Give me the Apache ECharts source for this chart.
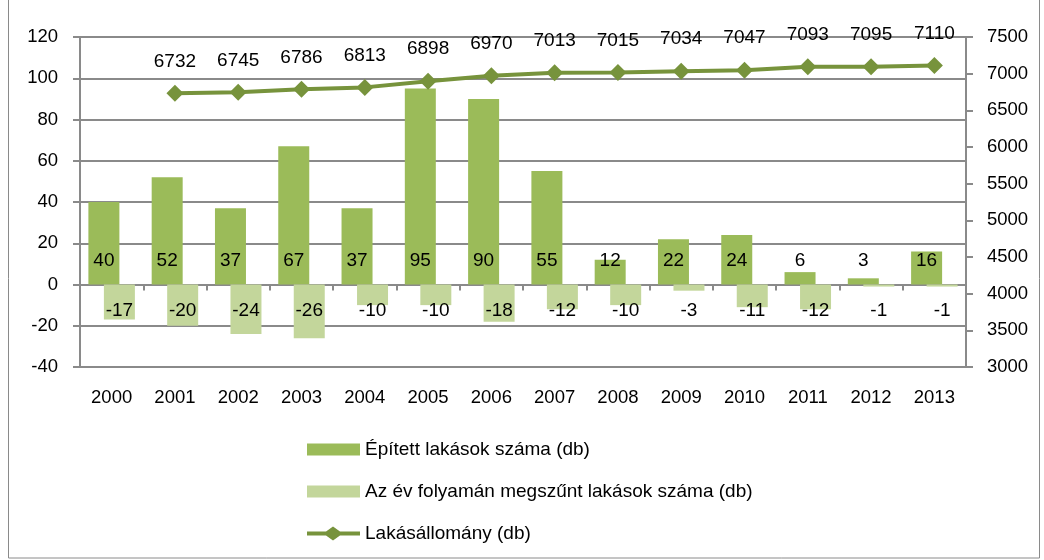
<!DOCTYPE html>
<html>
<head>
<meta charset="utf-8">
<script src="https://cdn.jsdelivr.net/npm/echarts@6/dist/echarts.min.js"></script>
<style>
  html, body { margin: 0; padding: 0; background: #fff; }
  #chart { width: 1044px; height: 560px; }
</style>
</head>
<body>
<div id="chart"></div>
<script>
// évek
var years = ["2000", "2001", "2002", "2003", "2004", "2005", "2006", "2007", "2008", "2009", "2010", "2011", "2012", "2013"];
// épített lakások
var built = [40, 52, 37, 67, 37, 95, 90, 55, 12, 22, 24, 6, 3, 16];
// megszűnt lakások
var demolished = [-17, -20, -24, -26, -10, -10, -18, -12, -10, -3, -11, -12, -1, -1];
// lakásállomány
var stock = [null, 6732, 6745, 6786, 6813, 6898, 6970, 7013, 7015, 7034, 7047, 7093, 7095, 7110];

var FONT = "'Liberation Sans', Arial, sans-serif";
var GRAY = "#8a8a8a";

var chart = echarts.init(document.getElementById("chart"));

var option = {
  animation: false,
  textStyle: { fontFamily: FONT, color: "#000" },
  grid: { left: 80, right: 78, top: 37, bottom: 193 },
  legend: {
    orient: "vertical",
    left: 302,
    top: 435,
    itemWidth: 53,
    itemHeight: 14,
    itemGap: 23,
    symbolKeepAspect: true,
    textStyle: { fontFamily: FONT, fontSize: 19, color: "#000" },
    data: [
      { name: "Épített lakások száma (db)", icon: "path://M0,0 L52,0 L52,12 L0,12 Z" },
      { name: "Az év folyamán megszűnt lakások száma (db)", icon: "path://M0,0 L52,0 L52,12 L0,12 Z" },
      { name: "Lakásállomány (db)", icon: "path://M0,5 L19,5 L26,0 L33,5 L53,5 L53,9 L33,9 L26,14 L19,9 L0,9 Z" }
    ]
  },
  graphic: [
    {
      type: "rect",
      shape: { x: 8.5, y: -5, width: 1031, height: 563 },
      style: { fill: "none", stroke: GRAY, lineWidth: 1 },
      silent: true
    }
  ],
  xAxis: [
    {
      type: "category",
      data: years,
      axisLine: { onZero: true, lineStyle: { color: GRAY, width: 2 } },
      axisTick: { show: true, length: 6, lineStyle: { color: GRAY, width: 2 } },
      axisLabel: { show: false },
      splitLine: { show: false }
    },
    {
      type: "category",
      data: years,
      position: "bottom",
      axisLine: { show: false, onZero: false },
      axisTick: { show: false },
      axisLabel: { fontSize: 18.5, color: "#000", margin: 21, fontFamily: FONT },
      splitLine: { show: false }
    }
  ],
  yAxis: [
    {
      type: "value",
      min: -40,
      max: 120,
      interval: 20,
      axisLine: { show: true, lineStyle: { color: GRAY, width: 2 } },
      axisTick: { show: true, length: 7, lineStyle: { color: GRAY, width: 2 } },
      axisLabel: { fontSize: 18.5, color: "#000", margin: 22, fontFamily: FONT },
      splitLine: { show: true, lineStyle: { color: GRAY, width: 2 } }
    },
    {
      type: "value",
      min: 3000,
      max: 7500,
      interval: 500,
      position: "right",
      axisLine: { show: true, lineStyle: { color: GRAY, width: 2 } },
      axisTick: { show: true, length: 7, lineStyle: { color: GRAY, width: 2 } },
      axisLabel: {
        fontSize: 18.5,
        color: "#000",
        margin: 21,
        fontFamily: FONT,
        formatter: function (v) { return String(v); }
      },
      splitLine: { show: false }
    }
  ],
  series: [
    {
      name: "Épített lakások száma (db)",
      type: "bar",
      data: built,
      barWidth: 31,
      barGap: "-50%",
      itemStyle: { color: "#9bbb59" },
      label: {
        show: true,
        position: "insideBottom",
        distance: 14,
        fontSize: 19,
        color: "#000",
        fontFamily: FONT
      }
    },
    {
      name: "Az év folyamán megszűnt lakások száma (db)",
      type: "bar",
      data: demolished,
      barWidth: 31,
      barGap: "-50%",
      itemStyle: { color: "#c3d69b" },
      label: {
        show: true,
        position: "insideTop",
        distance: 17,
        fontSize: 19,
        color: "#000",
        fontFamily: FONT
      }
    },
    {
      name: "Lakásállomány (db)",
      type: "line",
      yAxisIndex: 1,
      data: stock,
      symbol: "diamond",
      symbolSize: 17,
      lineStyle: { color: "#77933c", width: 4 },
      itemStyle: { color: "#77933c" },
      label: {
        show: true,
        position: "top",
        distance: 14,
        fontSize: 19,
        color: "#000",
        fontFamily: FONT
      },
      z: 5
    }
  ]
};

chart.setOption(option);
</script>
</body>
</html>
